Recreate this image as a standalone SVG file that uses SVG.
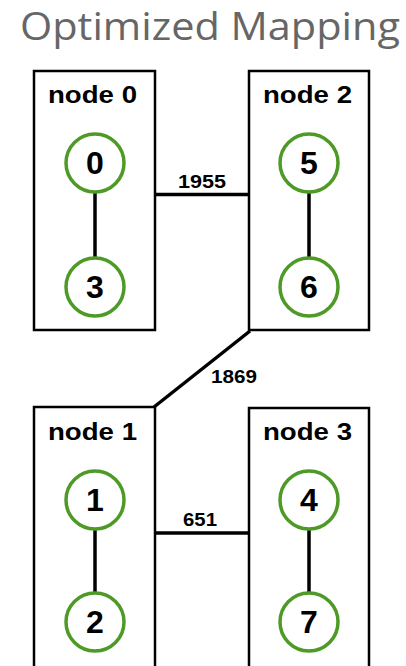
<svg xmlns="http://www.w3.org/2000/svg" width="406" height="666" viewBox="0 0 406 666">
<style>
.box{fill:#fff;stroke:#000;stroke-width:2.5}
.proc{fill:#fff;stroke:#4e9a26;stroke-width:3.5}
.edge{stroke:#000;stroke-width:3.5;fill:none}
.lbl{font-family:"Liberation Sans",Arial,sans-serif;font-weight:bold;fill:#000}
.nl{font-size:24px}
.pl{font-size:32px;text-anchor:middle}
.el{font-size:19px}
.title{font-family:"Open Sans","Noto Sans",sans-serif;font-size:38px;fill:#666;text-anchor:middle}
</style>
<rect width="406" height="666" fill="#fff"/>
<text class="title" x="210" y="40" textLength="380" lengthAdjust="spacingAndGlyphs">Optimized Mapping</text>
<g id="connectors">
<line class="edge" x1="155" y1="194.5" x2="249" y2="194.5"/>
<line class="edge" x1="250" y1="331" x2="154" y2="407"/>
<line class="edge" x1="155" y1="533" x2="249" y2="533"/>
<text class="lbl el" x="178" y="188" textLength="48" lengthAdjust="spacingAndGlyphs">1955</text>
<text class="lbl el" x="211" y="383" textLength="46" lengthAdjust="spacingAndGlyphs">1869</text>
<text class="lbl el" x="183" y="526" textLength="34" lengthAdjust="spacingAndGlyphs">651</text>
</g>
<g id="node0">
<rect class="box" x="34" y="71" width="121" height="259"/>
<text class="lbl nl" x="48" y="103" textLength="89" lengthAdjust="spacingAndGlyphs">node 0</text>
<line class="edge" x1="95" y1="192" x2="95" y2="258"/>
<circle class="proc" cx="95" cy="163" r="29"/>
<circle class="proc" cx="95" cy="287" r="29"/>
<text class="lbl pl" x="95" y="174">0</text>
<text class="lbl pl" x="95" y="298">3</text>
</g>
<g id="node2">
<rect class="box" x="249" y="71" width="120" height="259"/>
<text class="lbl nl" x="263" y="103" textLength="89" lengthAdjust="spacingAndGlyphs">node 2</text>
<line class="edge" x1="309" y1="192" x2="309" y2="258"/>
<circle class="proc" cx="309" cy="163" r="29"/>
<circle class="proc" cx="309" cy="287" r="29"/>
<text class="lbl pl" x="309" y="174">5</text>
<text class="lbl pl" x="309" y="298">6</text>
</g>
<g id="node1">
<rect class="box" x="34" y="407" width="121" height="270"/>
<text class="lbl nl" x="48" y="440" textLength="89" lengthAdjust="spacingAndGlyphs">node 1</text>
<line class="edge" x1="95" y1="529" x2="95" y2="593"/>
<circle class="proc" cx="95" cy="500" r="29"/>
<circle class="proc" cx="95" cy="622" r="29"/>
<text class="lbl pl" x="95" y="511">1</text>
<text class="lbl pl" x="95" y="633">2</text>
</g>
<g id="node3">
<rect class="box" x="249" y="408" width="120" height="270"/>
<text class="lbl nl" x="263" y="440" textLength="89" lengthAdjust="spacingAndGlyphs">node 3</text>
<line class="edge" x1="309" y1="529" x2="309" y2="593"/>
<circle class="proc" cx="309" cy="500" r="29"/>
<circle class="proc" cx="309" cy="622" r="29"/>
<text class="lbl pl" x="309" y="511">4</text>
<text class="lbl pl" x="309" y="633">7</text>
</g>
</svg>
